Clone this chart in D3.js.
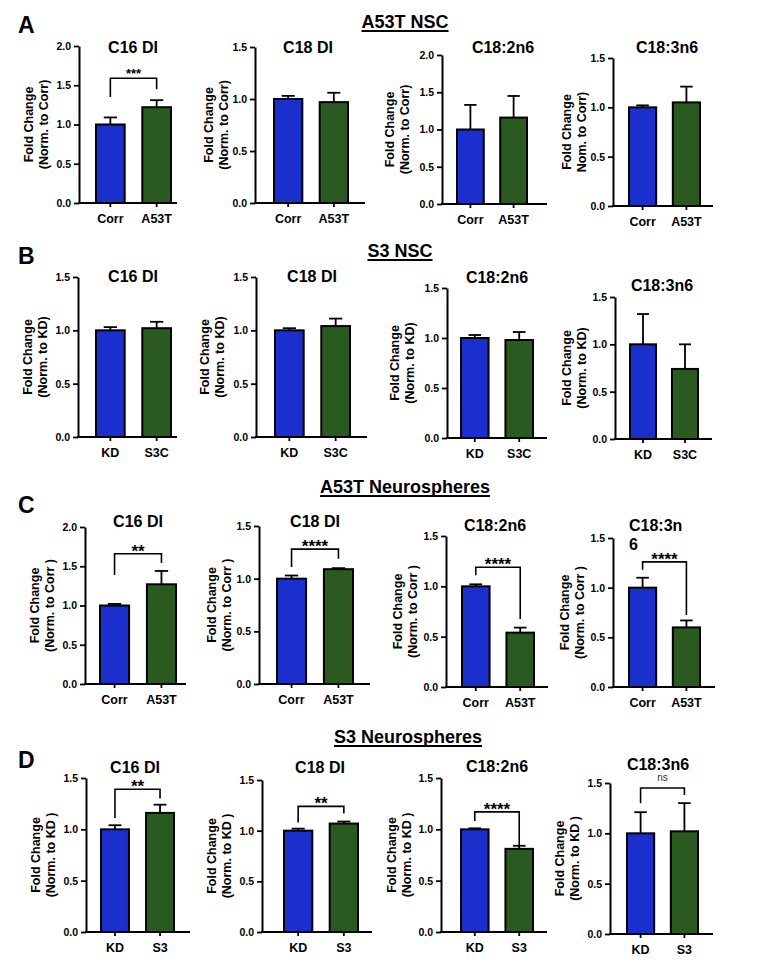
<!DOCTYPE html>
<html lang="en">
<head>
    <meta charset="UTF-8">
    <title>Fatty acid desaturation indices</title>
    <script src="https://d3js.org/d3.v7.min.js"></script>
    <style>
        body { margin: 0; background: #fff; }
        svg { font-family: "Liberation Sans", Arial, sans-serif; }
    </style>
</head>
<body>

<svg width="780" height="965"></svg>
<script>

    // ---- data ----
    var titles = ["C16 DI", "C18 DI", "C18:2n6", "C18:3n6"];
    var titlesC = ["C16 DI", "C18 DI", "C18:2n6", "C18:3n\n6"];

    var groupsA = ["Corr", "A53T"];
    var groupsB = ["KD", "S3C"];
    var groupsC = ["Corr", "A53T"];
    var groupsD = ["KD", "S3"];

    var meansA = [[1.00, 1.22], [1.00, 0.97], [1.00, 1.16], [1.00, 1.05]];
    var errsA  = [[0.09, 0.09], [0.03, 0.09], [0.33, 0.29], [0.02, 0.16]];
    var meansB = [[1.00, 1.02], [1.00, 1.04], [1.00, 0.98], [1.00, 0.74]];
    var errsB  = [[0.03, 0.06], [0.02, 0.07], [0.03, 0.08], [0.32, 0.26]];
    var meansC = [[1.00, 1.27], [1.00, 1.09], [1.00, 0.54], [1.00, 0.60]];
    var errsC  = [[0.02, 0.17], [0.03, 0.01], [0.02, 0.05], [0.10, 0.07]];
    var meansD = [[1.00, 1.16], [1.00, 1.07], [1.00, 0.81], [1.00, 1.02]];
    var errsD  = [[0.04, 0.08], [0.02, 0.02], [0.01, 0.03], [0.21, 0.28]];

    var ymaxA = [2.0, 1.5, 2.0, 1.5];
    var ymaxB = [1.5, 1.5, 1.5, 1.5];
    var ymaxC = [2.0, 1.5, 1.5, 1.5];
    var ymaxD = [1.5, 1.5, 1.5, 1.5];

    var ylabA = ["(Norm. to Corr)", "(Norm. to Corr)", "(Norm. to Corr)", "Nom. to Corr)"];
    var ylabB = ["(Norm. to KD)", "(Norm. to KD)", "(Norm. to KD)", "(Norm. to KD)"];
    var ylabC = ["(Norm. to Corr )", "(Norm. to Corr )", "(Norm. to Corr )", "(Norm. to Corr )"];
    var ylabD = ["(Norm. to KD )", "(Norm. to KD )", "(Norm. to KD )", "(Norm. to KD )"];

    // significance brackets: [label, bracket top, left leg end, right leg end] in data units
    var sigA = [["***", 1.59, 1.35, 1.45], null, null, null];
    var sigB = [null, null, null, null];
    var sigC = [["**", 1.66, 1.39, 1.54], ["****", 1.28, 1.11, 1.19], ["****", 1.19, 1.11, 0.675], ["****", 1.26, 1.18, 0.725]];
    var sigD = [["**", 1.39, 1.11, 1.30], ["**", 1.24, 1.08, 1.17], ["****", 1.17, 1.08, 0.83], ["ns", 1.45, 1.30, 1.38]];

    var colors = ["#1b2fcc", "#2b5a20"];

    var rows = [
        {letter: "A", head: "A53T NSC", groups: groupsA, means: meansA, errs: errsA, ymax: ymaxA, ylab: ylabA, sig: sigA, titles: titles},
        {letter: "B", head: "S3 NSC", groups: groupsB, means: meansB, errs: errsB, ymax: ymaxB, ylab: ylabB, sig: sigB, titles: titles},
        {letter: "C", head: "A53T Neurospheres", groups: groupsC, means: meansC, errs: errsC, ymax: ymaxC, ylab: ylabC, sig: sigC, titles: titlesC},
        {letter: "D", head: "S3 Neurospheres", groups: groupsD, means: meansD, errs: errsD, ymax: ymaxD, ylab: ylabD, sig: sigD, titles: titles}
    ];

    // ---- layout ----
    // per row: letter baseline, heading centre/baseline, then per panel:
    // ax = y axis x, xe = x axis end, yt/yb = top/zero of y axis, b1/b2 = bar span,
    // tx/ty = title anchor, yl = y label offset from axis
    var layout = [
        {ly: 33, hx: 405, hy: 28, panels: [
            {ax: 79, xe: 177, yt: 46, yb: 203, b1: 96, b2: 171, tx: 133, ty: 53, yl: -50},
            {ax: 255, xe: 365, yt: 47, yb: 203, b1: 274, b2: 348, tx: 308, ty: 53, yl: -46},
            {ax: 442, xe: 547, yt: 55, yb: 204, b1: 457, b2: 527, tx: 503, ty: 53, yl: -52},
            {ax: 613, xe: 713, yt: 58, yb: 206, b1: 629, b2: 700, tx: 667, ty: 53, yl: -46}
        ]},
        {ly: 264, hx: 400, hy: 257, panels: [
            {ax: 78, xe: 177, yt: 277, yb: 437, b1: 96, b2: 171, tx: 133, ty: 282, yl: -50},
            {ax: 256, xe: 367, yt: 277, yb: 437, b1: 275, b2: 350, tx: 312, ty: 282, yl: -51},
            {ax: 447, xe: 547, yt: 288, yb: 438, b1: 461, b2: 533, tx: 497, ty: 283, yl: -52},
            {ax: 615, xe: 712, yt: 297, yb: 439, b1: 630, b2: 698, tx: 662, ty: 291, yl: -48}
        ]},
        {ly: 513, hx: 405, hy: 493, panels: [
            {ax: 85, xe: 186, yt: 527, yb: 684, b1: 100, b2: 176, tx: 138, ty: 527, yl: -50},
            {ax: 259, xe: 370, yt: 526, yb: 684, b1: 277, b2: 353, tx: 315, ty: 527, yl: -47},
            {ax: 446, xe: 548, yt: 536, yb: 687, b1: 462, b2: 534, tx: 495, ty: 531, yl: -48},
            {ax: 613, xe: 715, yt: 538, yb: 687, b1: 629, b2: 700, tx: 629, ty: 531, yl: -48, left: true}
        ]},
        {ly: 768, hx: 408, hy: 743, panels: [
            {ax: 86, xe: 190, yt: 778, yb: 932, b1: 101, b2: 174, tx: 135, ty: 773, yl: -50},
            {ax: 262, xe: 372, yt: 780, yb: 932, b1: 284, b2: 358, tx: 320, ty: 773, yl: -50},
            {ax: 441, xe: 547, yt: 778, yb: 932, b1: 461, b2: 533, tx: 497, ty: 772, yl: -49},
            {ax: 610, xe: 713, yt: 783, yb: 934, b1: 627, b2: 698, tx: 658, ty: 770, yl: -50}
        ]}
    ];

    var svg = d3.select("svg");

    rows.forEach(function (row, r) {
        var L = layout[r];

        // panel letter
        svg.append("text")
            .attr("x", 18).attr("y", L.ly)
            .attr("font-size", 23).attr("font-weight", "bold")
            .text(row.letter);

        // underlined heading
        var h = svg.append("text")
            .attr("x", L.hx).attr("y", L.hy)
            .attr("text-anchor", "middle")
            .attr("font-size", 18).attr("font-weight", "bold")
            .text(row.head);
        var hw = h.node().getComputedTextLength();
        svg.append("line")
            .attr("x1", L.hx - hw / 2).attr("x2", L.hx + hw / 2)
            .attr("y1", L.hy + 3).attr("y2", L.hy + 3)
            .attr("stroke", "#000").attr("stroke-width", 1.8);

        row.titles.forEach(function (t, i) {
            drawPanel({
                title: t,
                groups: row.groups,
                means: row.means[i],
                errs: row.errs[i],
                ymax: row.ymax[i],
                ylab: row.ylab[i],
                sig: row.sig[i]
            }, L.panels[i]);
        });
    });

    function drawPanel(p, P) {
        var g = svg.append("g");

        var y = d3.scaleLinear().domain([0, p.ymax]).range([P.yb, P.yt]);
        var x = d3.scaleBand().domain(p.groups).range([P.b1, P.b2]).paddingInner(0.38);
        var bw = x.bandwidth();

        var bars = p.groups.map(function (k, i) {
            return {key: k, v: p.means[i], e: p.errs[i], c: colors[i]};
        });

        // error whiskers (upper only)
        var err = g.selectAll(".err").data(bars).enter().append("g").attr("class", "err");
        err.append("line")
            .attr("x1", function (d) { return x(d.key) + bw / 2; })
            .attr("x2", function (d) { return x(d.key) + bw / 2; })
            .attr("y1", function (d) { return y(d.v); })
            .attr("y2", function (d) { return y(d.v + d.e); })
            .attr("stroke", "#000").attr("stroke-width", 1.8);
        err.append("line")
            .attr("x1", function (d) { return x(d.key) + bw / 2 - bw * 0.23; })
            .attr("x2", function (d) { return x(d.key) + bw / 2 + bw * 0.23; })
            .attr("y1", function (d) { return y(d.v + d.e); })
            .attr("y2", function (d) { return y(d.v + d.e); })
            .attr("stroke", "#000").attr("stroke-width", 1.8);

        // bars
        g.selectAll(".bar").data(bars).enter().append("rect")
            .attr("class", "bar")
            .attr("x", function (d) { return x(d.key); })
            .attr("width", bw)
            .attr("y", function (d) { return y(d.v); })
            .attr("height", function (d) { return P.yb - y(d.v); })
            .attr("fill", function (d) { return d.c; })
            .attr("stroke", "#000").attr("stroke-width", 2);

        // y axis
        var ya = g.append("g")
            .attr("transform", "translate(" + P.ax + ",0)")
            .call(d3.axisLeft(y)
                .tickValues(d3.range(0, p.ymax + 1e-9, 0.5))
                .tickFormat(d3.format(".1f"))
                .tickSize(5).tickSizeOuter(0).tickPadding(3));
        ya.select(".domain").attr("stroke-width", 2);
        ya.selectAll(".tick line").attr("stroke-width", 1.8);
        ya.selectAll("text")
            .attr("font-family", "Liberation Sans, Arial, sans-serif")
            .attr("font-size", 10.5).attr("font-weight", "bold").attr("fill", "#000");

        // x axis
        var xa = g.append("g")
            .attr("transform", "translate(0," + P.yb + ")")
            .call(d3.axisBottom(x).tickSize(4).tickSizeOuter(0).tickPadding(7));
        xa.select(".domain").remove();
        xa.selectAll(".tick line").attr("stroke-width", 1.8);
        xa.selectAll("text")
            .attr("font-family", "Liberation Sans, Arial, sans-serif")
            .attr("font-size", 12.5).attr("font-weight", "bold").attr("fill", "#000");
        g.append("line")
            .attr("x1", P.ax - 1).attr("x2", P.xe)
            .attr("y1", P.yb).attr("y2", P.yb)
            .attr("stroke", "#000").attr("stroke-width", 2);

        // y label, two lines
        var yl = g.append("text")
            .attr("transform", "translate(" + (P.ax + P.yl + 4) + "," + ((P.yt + P.yb) / 2) + ") rotate(-90)")
            .attr("text-anchor", "middle")
            .attr("font-size", 12.5).attr("font-weight", "bold");
        yl.append("tspan").attr("x", 0).attr("dy", 0).text("Fold Change");
        yl.append("tspan").attr("x", 0).attr("dy", 14.5).text(p.ylab);

        // title
        var lines = p.title.split("\n");
        var tt = g.append("text")
            .attr("x", P.tx).attr("y", P.ty)
            .attr("text-anchor", P.left ? "start" : "middle")
            .attr("font-size", 16).attr("font-weight", "bold");
        lines.forEach(function (s, i) {
            tt.append("tspan").attr("x", P.tx).attr("dy", i ? 19 : 0).text(s);
        });

        // significance bracket
        if (p.sig) {
            var s = p.sig;
            var xl = x(p.groups[0]) + bw / 2, xr = x(p.groups[1]) + bw / 2;
            g.append("path")
                .attr("d", "M" + xl + "," + y(s[2]) + "V" + y(s[1]) + "H" + xr + "V" + y(s[3]))
                .attr("fill", "none").attr("stroke", "#000").attr("stroke-width", 1.6);
            var isNs = s[0] === "ns";
            g.append("text")
                .attr("x", (xl + xr) / 2)
                .attr("y", y(s[1]) + (isNs ? -7 : (s[0].length === 3 ? 0 : 3)))
                .attr("text-anchor", "middle")
                .attr("font-size", isNs ? 10 : (s[0].length === 3 ? 13 : 17))
                .attr("font-weight", isNs ? "normal" : "bold")
                .attr("fill", isNs ? "#333" : "#000")
                .text(s[0]);
        }
    }

</script>

</body>
</html>
